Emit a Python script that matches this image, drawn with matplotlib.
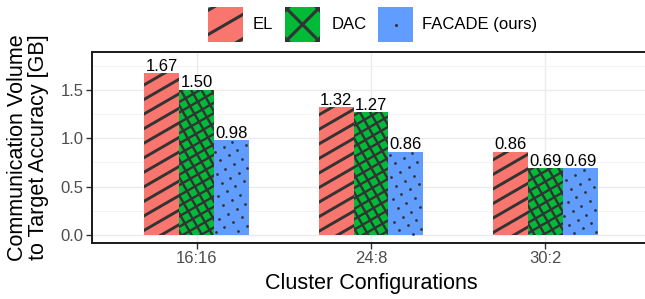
import numpy as np
import matplotlib
matplotlib.use('Agg')
import matplotlib.pyplot as plt
from matplotlib.transforms import IdentityTransform
from matplotlib.collections import LineCollection
from matplotlib.patches import Rectangle
from matplotlib.lines import Line2D
from matplotlib.ticker import FixedLocator

# ---------------- data ----------------
categories = ['16:16', '24:8', '30:2']
methods = ['EL', 'DAC', 'FACADE (ours)']
el_values = [1.67, 1.32, 0.86]
dac_values = [1.50, 1.27, 0.69]
facade_values = [0.98, 0.86, 0.69]
yticks = [0.0, 0.5, 1.0, 1.5]
xlabel = 'Cluster Configurations'
ylabel = 'Communication Volume\nto Target Accuracy [GB]'

colors = ['#F8766D', '#00BA38', '#619CFF']
patterns = ['stripe', 'crosshatch', 'circle']
PAT = '#333333'

plt.rcParams['font.family'] = ['Liberation Sans', 'DejaVu Sans']

DPI = 100
W, H = 645, 299
fig = plt.figure(figsize=(W / DPI, H / DPI), dpi=DPI)
ax = fig.add_axes([92 / W, (H - 243) / H, (650 - 92) / W, (243 - 52) / H])
ax.set_xlim(-0.6, 2.6)
ax.set_ylim(-0.083, 1.89)


def line_pattern(parent, x0, y0, x1, y1, angles, spacing, clip, lw, center=None):
    segs = []
    for ang in angles:
        th = np.radians(ang)
        u = np.array([np.cos(th), np.sin(th)])
        n = np.array([-np.sin(th), np.cos(th)])
        corners = np.array([[x0, y0], [x1, y0], [x0, y1], [x1, y1]])
        proj = corners @ n
        along = corners @ u
        phase = 0.0 if center is None else np.array(center) @ n
        kmin = int(np.floor((proj.min() - phase) / spacing)) - 1
        kmax = int(np.ceil((proj.max() - phase) / spacing)) + 1
        for k in range(kmin, kmax + 1):
            o = phase + k * spacing
            p0 = o * n + (along.min() - 5) * u
            p1 = o * n + (along.max() + 5) * u
            segs.append([p0, p1])
    lc = LineCollection(segs, colors=PAT, linewidths=lw,
                        transform=IdentityTransform(), zorder=2.5, capstyle='butt')
    parent.add_artist(lc)
    lc.set_clip_path(clip)


def dot_pattern(parent, x0, y0, x1, y1, angle, spacing, clip, size, center=None):
    th = np.radians(angle)
    u = np.array([np.cos(th), np.sin(th)])
    n = np.array([-np.sin(th), np.cos(th)])
    c0 = np.array([0.0, 0.0]) if center is None else np.array(center)
    R = np.hypot(x1 - x0, y1 - y0)
    mid = np.array([(x0 + x1) / 2, (y0 + y1) / 2])
    d = mid - c0
    ac, bc = d @ u / spacing, d @ n / spacing
    m = int(R / spacing) + 2
    xs, ys = [], []
    for a in range(int(ac) - m, int(ac) + m + 1):
        for b in range(int(bc) - m, int(bc) + m + 1):
            p = c0 + a * spacing * u + b * spacing * n
            if x0 + 1 <= p[0] <= x1 - 1 and y0 + 1 <= p[1] <= y1 - 1:
                xs.append(p[0]); ys.append(p[1])
    ln = Line2D(xs, ys, linestyle='none', marker='o', markersize=size,
                markerfacecolor=PAT, markeredgewidth=0,
                transform=IdentityTransform(), zorder=2.5)
    parent.add_artist(ln)
    ln.set_clip_path(clip)


x = np.arange(len(categories))
width = 0.2
series = [el_values, dac_values, facade_values]
for i, (vals, col, pat) in enumerate(zip(series, colors, patterns)):
    bars = ax.bar(x + (i - 1) * width, vals, width, color=col, zorder=2, linewidth=0)
    for b, v in zip(bars, vals):
        (bx0, by0), (bx1, by1) = ax.transData.transform(
            [(b.get_x(), 0), (b.get_x() + b.get_width(), b.get_height())])
        if pat == 'stripe':
            line_pattern(ax, bx0, by0, bx1, by1, [30], 12.6, b, 2.1)
        elif pat == 'crosshatch':
            line_pattern(ax, bx0, by0, bx1, by1, [30, 120], 9.0, b, 1.7)
        else:
            dot_pattern(ax, bx0, by0, bx1, by1, 30, 10.0, b, 2.0)
        ax.annotate(f'{v:.2f}', (b.get_x() + b.get_width() / 2, v),
                    xytext=(0, 1.8), textcoords='offset points',
                    ha='center', va='baseline', fontsize=12, color='black', zorder=4)

# axes styling
ax.set_xticks(x)
ax.set_xticklabels(categories)
ax.set_yticks(yticks)
ax.set_yticklabels([f'{t:.1f}' for t in yticks])
ax.yaxis.set_minor_locator(FixedLocator([0.25, 0.75, 1.25, 1.75]))
ax.tick_params(axis='both', which='major', labelsize=12, labelcolor='#4D4D4D',
               color='#333333', length=4, width=1.0, pad=2)
ax.tick_params(axis='y', which='minor', length=0)
ax.set_axisbelow(True)
ax.grid(which='major', color='#EBEBEB', linewidth=1.0)
ax.grid(which='minor', axis='y', color='#F2F2F2', linewidth=0.6)
for s in ['left', 'bottom', 'top']:
    ax.spines[s].set_color('#1A1A1A')
    ax.spines[s].set_linewidth(1.4)
ax.spines['right'].set_visible(False)

fig.text(371 / W, 1 - 284 / H, xlabel, ha='center', va='center', fontsize=15.5)
fig.text(28 / W, 1 - 147.5 / H, ylabel, ha='center', va='center', rotation=90,
         fontsize=15.5, linespacing=0.95, multialignment='center')

# legend (drawn manually to mimic pattern keys)
key_x = [208, 285, 378]
text_x = [253, 332, 422]
ks = 35
ky_top = 7
for kx, tx, col, pat, lab in zip(key_x, text_x, colors, patterns, methods):
    dx0, dy0 = kx, H - (ky_top + ks)
    dx1, dy1 = kx + ks, H - ky_top
    rect = Rectangle((dx0, dy0), ks, ks, facecolor=col, edgecolor='none',
                     transform=IdentityTransform(), zorder=2)
    fig.add_artist(rect)
    c = ((dx0 + dx1) / 2, (dy0 + dy1) / 2)
    if pat == 'stripe':
        line_pattern(fig, dx0, dy0, dx1, dy1, [30], 21.0, rect, 2.2, center=c)
    elif pat == 'crosshatch':
        line_pattern(fig, dx0, dy0, dx1, dy1, [45, 135], 22.0, rect, 2.2, center=c)
    else:
        dot_pattern(fig, dx0, dy0, dx1, dy1, 30, 40.0, rect, 2.2, center=c)
    fig.text(tx / W, 1 - (ky_top + ks / 2) / H, lab, ha='left', va='center',
             fontsize=12, color='black')

fig.savefig('out.png', dpi=DPI)
